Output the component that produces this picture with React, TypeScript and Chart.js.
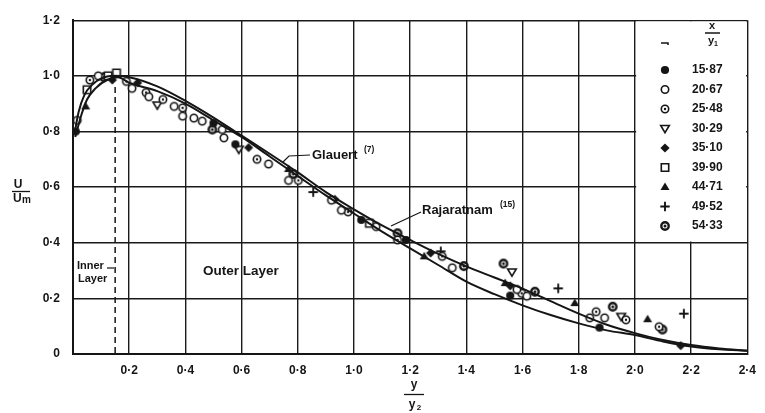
import React, { useEffect, useRef } from 'react';
import { Chart, registerables } from 'chart.js';

Chart.register(...registerables);

// ---- axis ticks ----
const X_MIN = 0, X_MAX = 2.4, X_STEP = 0.2;
const Y_MIN = 0, Y_MAX = 1.2, Y_STEP = 0.2;

// ---- theoretical curves ----
const glauertX = [0.005, 0.02, 0.04, 0.07, 0.1, 0.14, 0.2, 0.3, 0.4, 0.5, 0.6, 0.7, 0.8, 0.9, 1.0, 1.1, 1.2, 1.3, 1.4, 1.5, 1.6, 1.7, 1.8, 1.9, 2.0, 2.1, 2.2, 2.3, 2.4];
const glauertY = [0.79, 0.87, 0.93, 0.97, 0.99, 1.0, 0.995, 0.962, 0.91, 0.85, 0.785, 0.72, 0.653, 0.582, 0.52, 0.462, 0.41, 0.36, 0.315, 0.275, 0.235, 0.19, 0.145, 0.105, 0.075, 0.05, 0.032, 0.02, 0.012];

const rajaX = [0.008, 0.03, 0.05, 0.08, 0.12, 0.16, 0.2, 0.3, 0.4, 0.5, 0.6, 0.7, 0.8, 0.9, 1.0, 1.1, 1.2, 1.3, 1.4, 1.5, 1.6, 1.7, 1.8, 1.9, 2.0, 2.1, 2.2, 2.3, 2.4];
const rajaY = [0.78, 0.86, 0.915, 0.955, 0.985, 0.995, 0.975, 0.945, 0.9, 0.84, 0.78, 0.71, 0.64, 0.57, 0.505, 0.44, 0.38, 0.32, 0.26, 0.215, 0.175, 0.14, 0.11, 0.085, 0.068, 0.045, 0.027, 0.017, 0.012];

// ---- experimental series (x / y1 values) ----
const seriesLabels = ['15·87', '20·67', '25·48', '30·29', '35·10', '39·90', '44·71', '49·52', '54·33'];
const seriesMarkers = ['filled', 'open', 'dot', 'tridown', 'diamond', 'square', 'triup', 'plus', 'bold'];

const s1587X = [0.01, 0.5, 0.578, 1.026, 1.185, 1.556, 1.874];
const s1587Y = [0.8, 0.83, 0.754, 0.482, 0.41, 0.21, 0.095];

const s2067X = [0.015, 0.09, 0.21, 0.27, 0.36, 0.39, 0.43, 0.46, 0.531, 0.537, 0.696, 0.767, 0.92, 0.955, 1.079, 1.35, 1.58, 1.615, 1.839, 1.892];
const s2067Y = [0.84, 1.0, 0.955, 0.925, 0.89, 0.855, 0.848, 0.837, 0.807, 0.777, 0.683, 0.624, 0.553, 0.517, 0.458, 0.31, 0.232, 0.208, 0.13, 0.13];

const s2548X = [0.06, 0.19, 0.26, 0.32, 0.39, 0.655, 0.802, 0.979, 1.155, 1.314, 1.597, 1.862, 1.968, 2.086];
const s2548Y = [0.985, 0.98, 0.94, 0.915, 0.885, 0.7, 0.624, 0.511, 0.41, 0.351, 0.218, 0.152, 0.123, 0.098];

const s3029X = [0.3, 0.59, 1.562, 1.951];
const s3029Y = [0.895, 0.736, 0.295, 0.135];

const s3510X = [0.14, 0.23, 0.625, 0.932, 1.273, 1.556, 2.163];
const s3510Y = [0.985, 0.975, 0.742, 0.556, 0.363, 0.245, 0.03];

const s3990X = [0.05, 0.125, 0.155, 1.055];
const s3990Y = [0.95, 1.0, 1.01, 0.47];

const s4471X = [0.045, 0.767, 1.25, 1.538, 1.786, 2.045];
const s4471Y = [0.89, 0.665, 0.351, 0.255, 0.183, 0.125];

const s4952X = [0.855, 1.309, 1.727, 2.174];
const s4952Y = [0.582, 0.369, 0.236, 0.145];

const s5433X = [0.11, 0.496, 0.784, 1.155, 1.391, 1.532, 1.644, 1.921, 2.098];
const s5433Y = [0.995, 0.807, 0.647, 0.434, 0.316, 0.325, 0.224, 0.17, 0.088];

const seriesXs = [s1587X, s2067X, s2548X, s3029X, s3510X, s3990X, s4471X, s4952X, s5433X];
const seriesYs = [s1587Y, s2067Y, s2548Y, s3029Y, s3510Y, s3990Y, s4471Y, s4952Y, s5433Y];

const INK = '#151515';
const FONT = "'Liberation Sans', Arial, 'DejaVu Sans', sans-serif";

const zip = (xs: number[], ys: number[]) => xs.map((x, i) => ({ x, y: ys[i] }));
const fmt = (v: number) => (Math.abs(v) < 1e-9 ? '0' : Number(v).toFixed(1).replace('.', '·'));

function drawMarker(g: CanvasRenderingContext2D, kind: string, cx: number, cy: number) {
  g.save();
  g.strokeStyle = INK;
  g.fillStyle = INK;
  g.lineWidth = 1.6;
  const r = 3.7;
  g.beginPath();
  switch (kind) {
    case 'filled':
      g.arc(cx, cy, r + 0.4, 0, Math.PI * 2);
      g.fill();
      break;
    case 'open':
      g.arc(cx, cy, r, 0, Math.PI * 2);
      g.fillStyle = '#fff';
      g.fill();
      g.stroke();
      break;
    case 'dot':
    case 'bold':
      g.lineWidth = kind === 'bold' ? 2.4 : 1.6;
      g.arc(cx, cy, r, 0, Math.PI * 2);
      g.fillStyle = '#fff';
      g.fill();
      g.stroke();
      g.beginPath();
      g.fillStyle = INK;
      g.arc(cx, cy, kind === 'bold' ? 1.5 : 1.2, 0, Math.PI * 2);
      g.fill();
      break;
    case 'tridown':
      g.moveTo(cx - r - 0.6, cy - r * 0.8);
      g.lineTo(cx + r + 0.6, cy - r * 0.8);
      g.lineTo(cx, cy + r + 0.4);
      g.closePath();
      g.fillStyle = '#fff';
      g.fill();
      g.stroke();
      break;
    case 'diamond':
      g.moveTo(cx, cy - r - 0.8);
      g.lineTo(cx + r + 0.9, cy);
      g.lineTo(cx, cy + r + 0.8);
      g.lineTo(cx - r - 0.9, cy);
      g.closePath();
      g.fill();
      break;
    case 'square':
      g.rect(cx - r, cy - r, 2 * r, 2 * r);
      g.fillStyle = '#fff';
      g.fill();
      g.stroke();
      break;
    case 'triup':
      g.moveTo(cx, cy - r - 0.8);
      g.lineTo(cx + r + 0.8, cy + r * 0.8);
      g.lineTo(cx - r - 0.8, cy + r * 0.8);
      g.closePath();
      g.fill();
      break;
    case 'plus':
      g.lineWidth = 1.9;
      g.moveTo(cx - r - 1, cy);
      g.lineTo(cx + r + 1, cy);
      g.moveTo(cx, cy - r - 1);
      g.lineTo(cx, cy + r + 1);
      g.stroke();
      break;
  }
  g.restore();
}

function makeMarker(kind: string): HTMLCanvasElement {
  const c = document.createElement('canvas');
  c.width = 16;
  c.height = 16;
  const g = c.getContext('2d')!;
  drawMarker(g, kind, 8, 8);
  return c;
}

const overlayPlugin = {
  id: 'overlay',
  beforeDatasetsDraw(chart: any) {
    const { ctx, scales } = chart;
    const xs = scales.x, ys = scales.y;
    const x0 = xs.getPixelForValue(2.0), x1 = xs.getPixelForValue(2.4);
    const y0 = ys.getPixelForValue(1.2), y1 = ys.getPixelForValue(0.4);
    ctx.save();
    ctx.fillStyle = '#fff';
    ctx.fillRect(x0 + 1.2, y0 + 1.2, x1 - x0 - 2.4, y1 - y0 - 2.4);
    // inner / outer layer boundary
    const xb = xs.getPixelForValue(0.15);
    ctx.strokeStyle = INK;
    ctx.lineWidth = 1.5;
    ctx.setLineDash([6, 4]);
    ctx.beginPath();
    ctx.moveTo(xb, ys.getPixelForValue(0.96));
    ctx.lineTo(xb, ys.getPixelForValue(0));
    ctx.stroke();
    ctx.restore();
  },
  afterDraw(chart: any) {
    const { ctx } = chart;
    ctx.save();
    ctx.fillStyle = INK;
    ctx.strokeStyle = INK;
    ctx.textBaseline = 'middle';

    // y-axis title U / Um
    ctx.font = `bold 12px ${FONT}`;
    ctx.textAlign = 'center';
    ctx.fillText('U', 18, 185);
    ctx.lineWidth = 1.3;
    ctx.beginPath();
    ctx.moveTo(12, 191.5);
    ctx.lineTo(30, 191.5);
    ctx.stroke();
    ctx.textAlign = 'left';
    ctx.fillText('U', 13, 199);
    ctx.font = `bold 10px ${FONT}`;
    ctx.fillText('m', 22, 200);

    // x-axis title y / y2
    ctx.font = `bold 12px ${FONT}`;
    ctx.textAlign = 'center';
    ctx.fillText('y', 414, 385);
    ctx.beginPath();
    ctx.moveTo(404, 394.5);
    ctx.lineTo(424, 394.5);
    ctx.stroke();
    ctx.fillText('y', 412, 405);
    ctx.font = `bold 8px ${FONT}`;
    ctx.fillText('2', 419, 408);

    // Inner / Outer layer labels
    ctx.textAlign = 'left';
    ctx.font = `bold 11px ${FONT}`;
    ctx.fillText('Inner', 77, 266);
    ctx.fillText('Layer', 78, 279);
    ctx.lineWidth = 1.2;
    ctx.beginPath();
    ctx.moveTo(107, 268);
    ctx.lineTo(114, 268);
    ctx.stroke();
    ctx.font = `bold 13.5px ${FONT}`;
    ctx.fillText('Outer Layer', 203, 271);

    // Glauert label
    ctx.font = `bold 13px ${FONT}`;
    ctx.fillText('Glauert', 312, 155);
    ctx.font = `bold 8.5px ${FONT}`;
    ctx.fillText('(7)', 364, 150);
    ctx.lineWidth = 1.2;
    ctx.beginPath();
    ctx.moveTo(310, 155);
    ctx.lineTo(289, 156);
    ctx.lineTo(283, 162);
    ctx.stroke();

    // Rajaratnam label
    ctx.font = `bold 13px ${FONT}`;
    ctx.fillText('Rajaratnam', 422, 210);
    ctx.font = `bold 8.5px ${FONT}`;
    ctx.fillText('(15)', 500, 205);
    ctx.beginPath();
    ctx.moveTo(421, 212);
    ctx.lineTo(391, 226);
    ctx.stroke();

    // legend
    const mx = 665, tx = 692;
    ctx.lineWidth = 1.5;
    ctx.beginPath();
    ctx.moveTo(661, 43);
    ctx.lineTo(668, 43);
    ctx.lineTo(668, 45);
    ctx.stroke();
    ctx.font = `bold 11px ${FONT}`;
    ctx.textAlign = 'center';
    ctx.fillText('x', 712, 26);
    ctx.beginPath();
    ctx.moveTo(705, 33);
    ctx.lineTo(720, 33);
    ctx.stroke();
    ctx.fillText('y', 711, 41);
    ctx.font = `bold 7px ${FONT}`;
    ctx.fillText('1', 716, 44);
    ctx.textAlign = 'left';
    ctx.font = `bold 12px ${FONT}`;
    seriesLabels.forEach((lab, i) => {
      const yy = 70 + i * 19.5;
      drawMarker(ctx, seriesMarkers[i], mx, yy);
      ctx.fillStyle = INK;
      ctx.fillText(lab, tx, yy);
    });
    ctx.restore();
  },
};

export default function App() {
  const ref = useRef<HTMLCanvasElement>(null);
  useEffect(() => {
    document.body.style.margin = '0';
    const canvas = ref.current!;
    const curveDs = (xs: number[], ys: number[], label: string) => ({
      type: 'line' as const,
      label,
      data: zip(xs, ys),
      showLine: true,
      borderColor: INK,
      borderWidth: 2,
      pointRadius: 0,
      fill: false,
      cubicInterpolationMode: 'monotone' as const,
    });
    const datasets: any[] = [
      curveDs(glauertX, glauertY, 'Glauert (7)'),
      curveDs(rajaX, rajaY, 'Rajaratnam (15)'),
      ...seriesLabels.map((lab, i) => ({
        type: 'scatter' as const,
        label: lab,
        data: zip(seriesXs[i], seriesYs[i]),
        showLine: false,
        pointStyle: makeMarker(seriesMarkers[i]),
        pointRadius: 5,
      })),
    ];
    const tickFont = { family: FONT, size: 12, weight: 'bold' as const };
    const chart = new Chart(canvas, {
      type: 'scatter',
      data: { datasets },
      options: {
        animation: false,
        responsive: false,
        events: [],
        layout: { padding: { top: 16, right: 13, left: 0, bottom: 0 } },
        plugins: { legend: { display: false }, tooltip: { enabled: false } },
        scales: {
          x: {
            type: 'linear',
            min: X_MIN,
            max: X_MAX,
            ticks: {
              stepSize: X_STEP,
              autoSkip: false,
              maxRotation: 0,
              padding: 9,
              color: INK,
              font: tickFont,
              callback: (v: any) => (Math.abs(Number(v)) < 1e-9 ? '' : fmt(Number(v))),
            },
            grid: { color: '#1a1a1a', lineWidth: 1.4, drawTicks: false },
            border: { color: INK, width: 2 },
            afterFit: (s: any) => { s.height = 59; },
          },
          y: {
            type: 'linear',
            min: Y_MIN,
            max: Y_MAX,
            ticks: {
              stepSize: Y_STEP,
              padding: 13,
              color: INK,
              font: tickFont,
              callback: (v: any) => fmt(Number(v)),
            },
            grid: { color: '#1a1a1a', lineWidth: 1.4, drawTicks: false },
            border: { color: INK, width: 2 },
            afterFit: (s: any) => { s.width = 73; },
          },
        },
      },
      plugins: [overlayPlugin],
    });
    return () => chart.destroy();
  }, []);
  return (
    <div style={{ position: 'absolute', left: 0, top: 0, width: 765, height: 413, background: '#fff' }}>
      <canvas ref={ref} width={765} height={413} style={{ display: 'block' }} />
    </div>
  );
}
